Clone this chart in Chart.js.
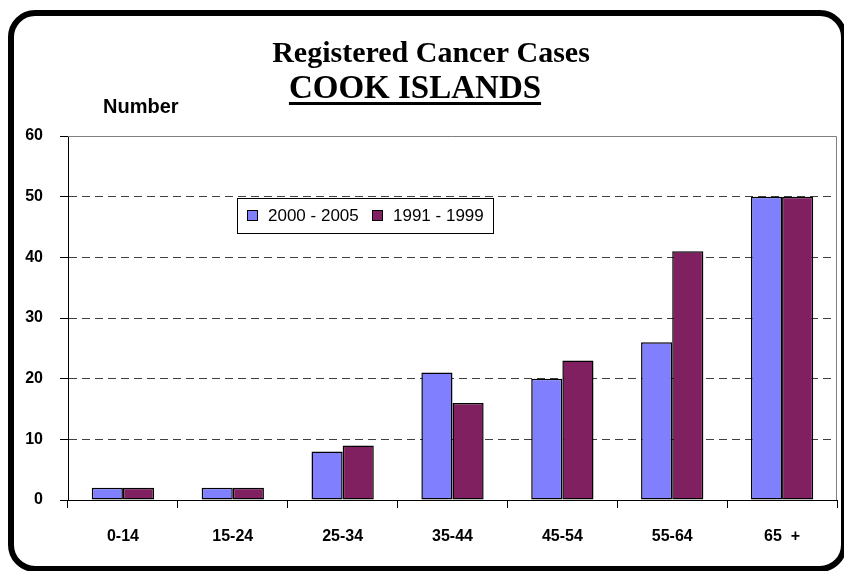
<!DOCTYPE html>
<html>
<head>
<meta charset="utf-8">
<script src="https://cdn.jsdelivr.net/npm/chart.js@4"></script>
<style>
html,body{margin:0;padding:0;background:#fff;}
#wrap{width:844px;height:571px;position:relative;}
</style>
</head>
<body>
<div id="wrap"><canvas id="c" width="844" height="571"></canvas></div>
<script>
const categories = ["0-14", "15-24", "25-34", "35-44", "45-54", "55-64", "65  +"];
const series2000_2005 = [2, 2, 8, 21, 20, 26, 50];
const series1991_1999 = [2, 2, 9, 16, 23, 41, 50];
const seriesLabels = ["2000 - 2005", "1991 - 1999"];
const yTicks = [0, 10, 20, 30, 40, 50, 60];
const titleLine1 = "Registered Cancer Cases";
const titleLine2 = "COOK ISLANDS";
const yAxisTitle = "Number";

const decor = {
  id: 'decor',
  beforeDraw(chart) {
    const ctx = chart.ctx;
    ctx.save();
    ctx.fillStyle = '#fff';
    ctx.fillRect(0, 0, chart.width, chart.height);
    ctx.restore();
  },
  afterDraw(chart) {
    const ctx = chart.ctx;
    const a = chart.chartArea;
    ctx.save();
    // plot border (top & right) grey
    ctx.strokeStyle = '#808080';
    ctx.lineWidth = 1;
    ctx.beginPath();
    ctx.moveTo(a.left, a.top + 0.5);
    ctx.lineTo(a.right - 0.5, a.top + 0.5);
    ctx.lineTo(a.right - 0.5, a.bottom);
    ctx.stroke();

    // titles
    ctx.fillStyle = '#000';
    ctx.textAlign = 'center';
    ctx.textBaseline = 'alphabetic';
    ctx.font = 'bold 30px "Liberation Serif", "Times New Roman", serif';
    ctx.fillText(titleLine1, 431, 62);
    ctx.font = 'bold 33px "Liberation Serif", "Times New Roman", serif';
    ctx.fillText(titleLine2, 415, 98);
    const w2 = ctx.measureText(titleLine2).width;
    ctx.fillRect(415 - w2 / 2, 102, w2, 3);

    // y axis title
    ctx.textAlign = 'left';
    ctx.textBaseline = 'middle';
    ctx.font = 'bold 20px "Liberation Sans", Arial, sans-serif';
    ctx.fillText(yAxisTitle, 103, 107);

    // legend
    const lx = 237, ly = 198, lw = 256, lh = 35;
    ctx.fillStyle = '#fff';
    ctx.fillRect(lx, ly, lw, lh);
    ctx.strokeStyle = '#000';
    ctx.lineWidth = 1;
    ctx.strokeRect(lx + 0.5, ly + 0.5, lw, lh);
    ctx.font = '17px "Liberation Sans", Arial, sans-serif';
    ctx.textBaseline = 'middle';
    const itemX = [247, 372];
    chart.data.datasets.forEach((ds, i) => {
      const x = itemX[i];
      ctx.fillStyle = ds.backgroundColor;
      ctx.fillRect(x, 210, 10, 10);
      ctx.strokeStyle = '#000';
      ctx.strokeRect(x + 0.5, 210.5, 10, 10);
      ctx.fillStyle = '#000';
      ctx.fillText(ds.label, x + 21, 216);
    });

    // rounded frame
    ctx.strokeStyle = '#000';
    ctx.lineWidth = 6;
    ctx.beginPath();
    ctx.roundRect(11, 13, 833, 556, 24);
    ctx.stroke();
    ctx.restore();
  }
};

new Chart(document.getElementById('c'), {
  type: 'bar',
  data: {
    labels: categories,
    datasets: [
      { label: seriesLabels[0], data: series2000_2005, backgroundColor: '#8080FF', borderColor: '#000', borderWidth: 1.5, borderSkipped: false },
      { label: seriesLabels[1], data: series1991_1999, backgroundColor: '#802060', borderColor: '#000', borderWidth: 1.5, borderSkipped: false }
    ]
  },
  options: {
    responsive: false,
    animation: false,
    devicePixelRatio: 1,
    layout: { padding: { left: 0, right: 7, top: 136, bottom: 0 } },
    datasets: { bar: { categoryPercentage: 0.567, barPercentage: 1.0 } },
    plugins: { legend: { display: false }, title: { display: false }, tooltip: { enabled: false } },
    scales: {
      x: {
        afterFit(s) { s.height = 71; },
        grid: { display: true, drawOnChartArea: false, drawTicks: true, tickLength: 8, color: '#000', tickColor: '#000', offset: true },
        border: { display: true, color: '#000', width: 1 },
        ticks: { color: '#000', padding: 19, font: { family: '"Liberation Sans", Arial, sans-serif', size: 16, weight: 'bold' } }
      },
      y: {
        min: 0, max: 60,
        afterFit(s) { s.width = 68; },
        afterBuildTicks(s) { s.ticks = yTicks.map(v => ({ value: v })); },
        grid: {
          color: (c) => (c.tick && c.tick.value === 60) ? 'rgba(0,0,0,0)' : '#404040',
          lineWidth: 1, drawTicks: true, tickLength: 8, tickColor: '#000'
        },
        border: { display: true, color: '#000', width: 1, dash: [8, 5] },
        ticks: { color: '#000', padding: 17, font: { family: '"Liberation Sans", Arial, sans-serif', size: 16, weight: 'bold' } }
      }
    }
  },
  plugins: [decor]
});
</script>
</body>
</html>
